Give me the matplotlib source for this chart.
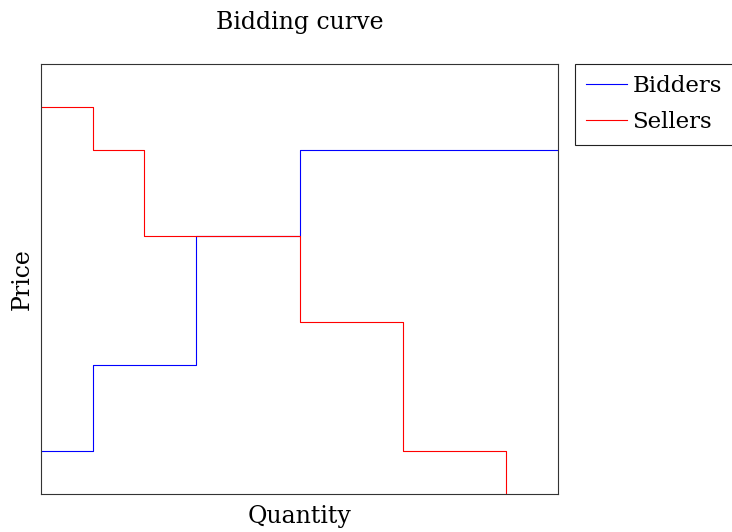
import matplotlib
matplotlib.use("Agg")
import matplotlib.pyplot as plt

# ============================================
# DATA
# ============================================

bidders_q = [0, 1, 3, 5, 10]
bidders_p = [1, 3, 6, 8, 8]

sellers_q = [0, 1, 2, 5, 7, 9]
sellers_p = [9, 8, 6, 4, 1, 0]

plt.rcParams["font.family"] = ["DejaVu Serif"]

fig = plt.figure(figsize=(7.32, 5.32), dpi=100)
ax = fig.add_axes([41 / 732, 38 / 532, 517 / 732, 430 / 532])

ax.plot(bidders_q, bidders_p, drawstyle="steps-post", color="blue", lw=0.8, label="Bidders")
ax.plot(sellers_q, sellers_p, drawstyle="steps-post", color="red", lw=0.8, label="Sellers")

ax.set_xlim(0, 10)
ax.set_ylim(0, 10)
ax.set_xticks([])
ax.set_yticks([])
for s in ax.spines.values():
    s.set_linewidth(0.8)
    s.set_color("#333333")

ax.set_title("Bidding curve", fontsize=17, pad=25)
ax.set_xlabel("Quantity", fontsize=17, labelpad=8)
ax.set_ylabel("Price", fontsize=17, labelpad=5)

leg = fig.legend(loc="upper left", bbox_to_anchor=(575 / 732, 1 - 64 / 532),
                 fontsize=16.5, fancybox=False, framealpha=1, edgecolor="#222222",
                 handlelength=1.75, handletextpad=0.25, borderpad=0.5, labelspacing=0.6,
                 borderaxespad=0)
leg.get_frame().set_linewidth(0.8)

fig.savefig("out.png", dpi=100)
